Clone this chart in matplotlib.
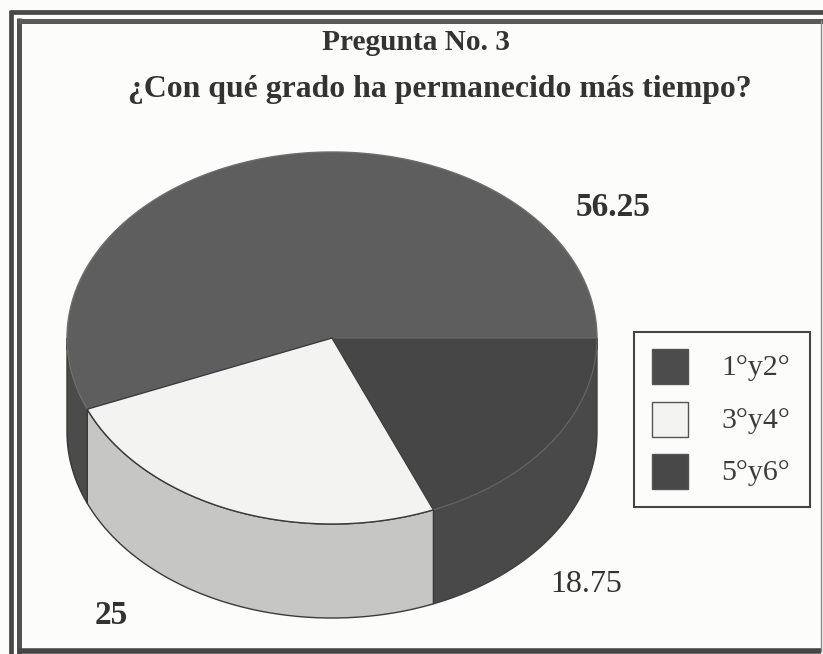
import numpy as np
import matplotlib
matplotlib.use('Agg')
import matplotlib.pyplot as plt
from matplotlib.patches import Rectangle

# data
categories = ['1\u00b0y2\u00b0', '3\u00b0y4\u00b0', '5\u00b0y6\u00b0']
values = [56.25, 25, 18.75]
value_labels = ['56.25', '25', '18.75']

top_colors = ['#5e5e5e', '#f3f3f1', '#464646']
top_edges = ['#6e6e6e', '#3a3a3a', '#626262']
side_colors = ['#4b4b4b', '#c6c6c4', '#494949']
side_edges = ['#383838', '#3a3a3a', '#404040']
legend_colors = ['#4c4c4c', '#f3f3f1', '#484848']
ink = '#333333'

plt.rcParams['font.family'] = 'Liberation Serif'

# pixel coordinates, y going down
fig = plt.figure(figsize=(8.23, 6.54), dpi=100, facecolor='#fcfcfa')
ax = fig.add_axes([0, 0, 1, 1])
ax.set_xlim(0, 823)
ax.set_ylim(654, 0)
ax.axis('off')

# frame, the scan cuts it off at the page edge
ax.plot([11.5, 11.5], [10, 654], color='#484848', lw=3.4, solid_capstyle='butt')
ax.plot([19.5, 19.5], [18, 654], color='#505050', lw=3.6, solid_capstyle='butt')
ax.plot([10, 823], [12, 12], color='#484848', lw=3.4, solid_capstyle='butt')
ax.plot([18, 823], [20.5, 20.5], color='#5a5a5a', lw=3.6, solid_capstyle='butt')
ax.plot([18, 821], [651, 651], color='#454545', lw=4.0, solid_capstyle='butt')
ax.plot([821, 821], [20, 652], color='#8a8a8a', lw=1.0, solid_capstyle='butt')

ax.text(416, 42, 'Pregunta No. 3', ha='center', va='center', fontsize=21.2,
        fontweight='bold', color=ink)
ax.text(440, 90, '\u00bfCon qu\u00e9 grado ha permanecido m\u00e1s tiempo?', ha='center',
        va='center', fontsize=22.9, fontweight='bold', color=ink)

# pie geometry
cx, cy = 332, 338
rx, ry = 265, 186
depth = 94


def ell(t):
    return cx + rx * np.cos(t), cy + ry * np.sin(t)


# angles run clockwise on screen from 3 o'clock: last slice first
order = [2, 1, 0]
start = 0.0
arcs = {}
for i in order:
    end = start + values[i] / sum(values) * 2 * np.pi
    arcs[i] = (start, end)
    start = end

# side walls, only the front half shows
for i in order:
    a, b = arcs[i]
    b = min(b, np.pi)
    if a >= b:
        continue
    t = np.linspace(a, b, 120)
    x, y = ell(t)
    ax.fill(np.r_[x, x[::-1]], np.r_[y, y[::-1] + depth], fc=side_colors[i],
            ec=side_edges[i], lw=1.0, zorder=2)

# top faces, white slice last so its dark outline stays on top
for i in [0, 2, 1]:
    a, b = arcs[i]
    t = np.linspace(a, b, 300)
    x, y = ell(t)
    ax.fill(np.r_[cx, x], np.r_[cy, y], fc=top_colors[i], ec=top_edges[i], lw=1.0, zorder=3)

# legend
ax.add_patch(Rectangle((634, 332), 176, 175, fc='#fcfcfa', ec='#444444', lw=1.5, zorder=4))
for i, (name, yy) in enumerate(zip(categories, [367, 420, 472])):
    ax.add_patch(Rectangle((652, yy - 18), 36, 35, fc=legend_colors[i], ec='#555555',
                           lw=1.0, zorder=5))
    ax.text(756, yy + 1, name, ha='center', va='center', fontsize=21.5, color='#3c3c3c', zorder=5)

# value labels
ax.text(613, 207, value_labels[0], ha='center', va='center', fontsize=24, fontweight='bold', color=ink)
ax.text(111, 616, value_labels[1], ha='center', va='center', fontsize=24, fontweight='bold', color=ink)
ax.text(586, 584, value_labels[2], ha='center', va='center', fontsize=23, color=ink)

fig.savefig('out.png', dpi=100, facecolor=fig.get_facecolor())
